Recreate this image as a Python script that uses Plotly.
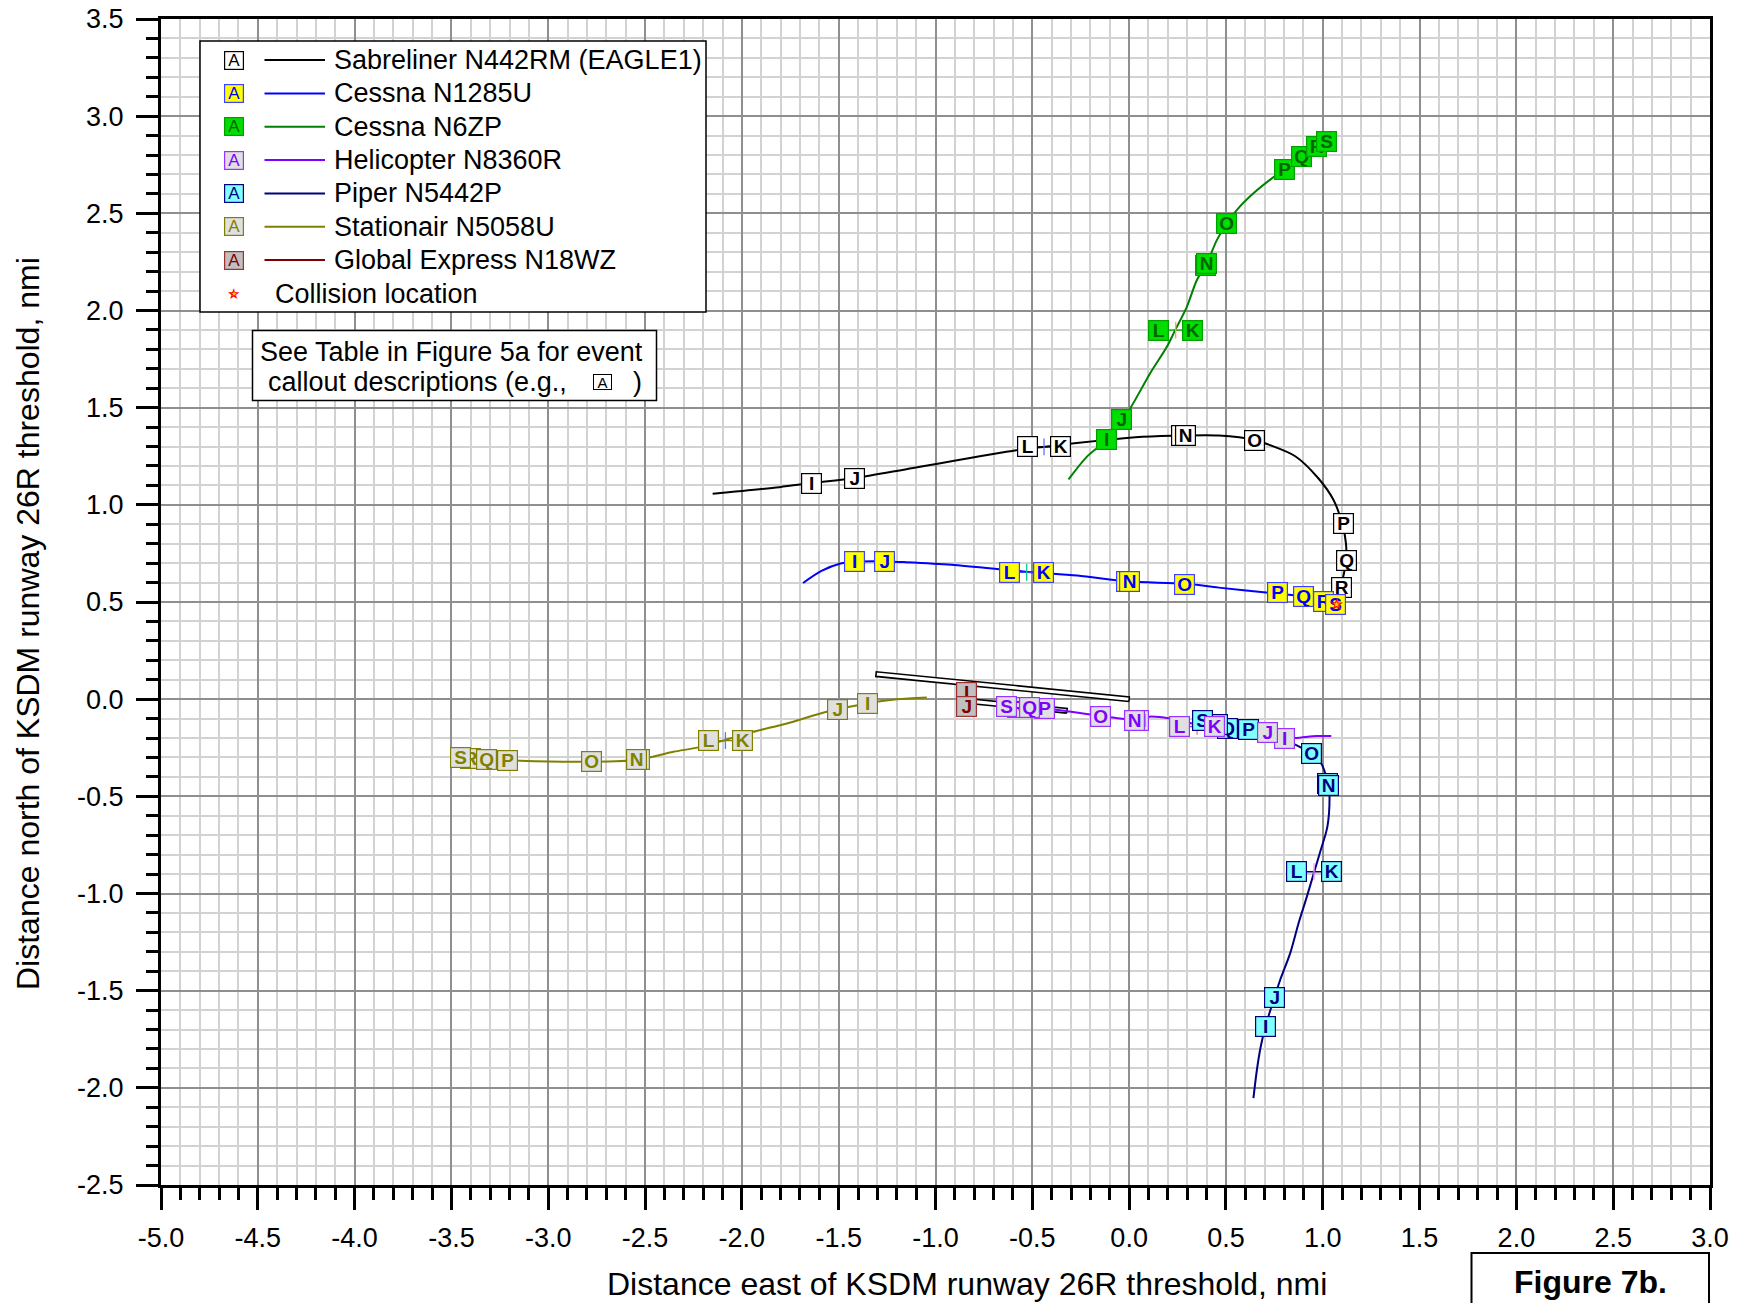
import numpy as np
import plotly.graph_objects as go

FONT = "Liberation Sans, Arial, sans-serif"

# ---------------------------------------------------------------------------
# Track data: distance east / north of the KSDM runway 26R threshold (nmi)
# ---------------------------------------------------------------------------
sab_x = [-2.151, -1.806, -1.638, -1.417, -1.115, -0.583, -0.444, -0.129, 0.069,
         0.286, 0.463, 0.647, 0.720, 0.858, 0.976, 1.055, 1.101, 1.120, 1.120,
         1.108, 1.091, 1.073]
sab_y = [1.057, 1.091, 1.112, 1.138, 1.190, 1.281, 1.298, 1.333, 1.350,
         1.357, 1.357, 1.335, 1.310, 1.250, 1.138, 1.026, 0.902, 0.800, 0.712,
         0.640, 0.569, 0.485]

c85u_x = [-1.684, -1.589, -1.490, -1.417, -1.261, -1.155, -0.918, -0.523, -0.267,
          0.000, 0.282, 0.463, 0.720, 0.897, 0.996, 1.073]
c85u_y = [0.598, 0.660, 0.698, 0.707, 0.709, 0.705, 0.692, 0.655, 0.636,
          0.605, 0.595, 0.574, 0.548, 0.529, 0.509, 0.485]

c6zp_x = [-0.313, -0.219, -0.115, -0.038, 0.005, 0.108, 0.195, 0.238, 0.298, 0.350,
          0.401, 0.453, 0.505, 0.556, 0.642, 0.737, 0.801, 0.892, 0.970, 1.018]
c6zp_y = [1.131, 1.247, 1.336, 1.441, 1.496, 1.676, 1.813, 1.899, 2.019, 2.157,
          2.242, 2.362, 2.448, 2.517, 2.603, 2.680, 2.726, 2.791, 2.843, 2.868]

heli_x = [1.044, 0.967, 0.863, 0.803, 0.713, 0.600, 0.441, 0.350, 0.209, 0.106,
          0.028, -0.067, -0.149, -0.325, -0.437, -0.514, -0.635]
heli_y = [-0.190, -0.190, -0.200, -0.200, -0.173, -0.155, -0.139, -0.130, -0.099, -0.090,
          -0.105, -0.097, -0.087, -0.061, -0.048, -0.043, -0.039]

piper_x = [0.642, 0.660, 0.680, 0.704, 0.751, 0.780, 0.832, 0.875, 0.918, 0.956,
           0.987, 1.024, 1.035, 1.030, 0.992, 0.941, 0.850, 0.720, 0.614, 0.510, 0.381]
piper_y = [-2.053, -1.907, -1.786, -1.684, -1.533, -1.445, -1.307, -1.153, -1.016, -0.888,
           -0.785, -0.656, -0.502, -0.442, -0.331, -0.282, -0.230, -0.180, -0.154, -0.150, -0.108]

stat_x = [-1.045, -1.200, -1.355, -1.562, -1.768, -1.941, -2.085, -2.225, -2.354,
          -2.543, -2.781, -3.146, -3.450]
stat_y = [0.009, -0.001, -0.022, -0.065, -0.125, -0.168, -0.210, -0.248, -0.271,
          -0.313, -0.322, -0.317, -0.300]

glex_x = [-0.879, -0.850]
glex_y = [-0.087, -0.050]

# Event callouts (letter, east, north)
sab_lbl = ["I", "J", "L", "K", "M", "N", "O", "P", "Q", "R"]
sab_lx = [-1.638, -1.417, -0.527, -0.352, 0.272, 0.289, 0.650, 1.105, 1.122, 1.095]
sab_ly = [1.112, 1.138, 1.298, 1.298, 1.357, 1.356, 1.329, 0.903, 0.714, 0.573]

c85u_lbl = ["I", "J", "L", "K", "M", "N", "O", "P", "Q", "R", "S"]
c85u_lx = [-1.417, -1.261, -0.618, -0.440, -0.015, 0.000, 0.285, 0.767, 0.902, 1.005, 1.066]
c85u_ly = [0.707, 0.708, 0.652, 0.654, 0.605, 0.603, 0.592, 0.547, 0.530, 0.505, 0.487]

c6zp_lbl = ["I", "J", "L", "K", "M", "N", "O", "P", "Q", "R", "S"]
c6zp_lx = [-0.115, -0.038, 0.152, 0.329, 0.392, 0.401, 0.505, 0.801, 0.892, 0.970, 1.018]
c6zp_ly = [1.336, 1.441, 1.899, 1.899, 2.234, 2.242, 2.448, 2.726, 2.791, 2.843, 2.868]

piper_lbl = ["I", "J", "L", "K", "M", "N", "O", "P", "Q", "R", "S"]
piper_lx = [0.704, 0.751, 0.866, 1.044, 1.022, 1.030, 0.941, 0.614, 0.510, 0.455, 0.381]
piper_ly = [-1.684, -1.533, -0.888, -0.888, -0.434, -0.442, -0.282, -0.154, -0.150, -0.128, -0.108]

heli_lbl = ["R", "I", "J", "K", "L", "M", "N", "O", "P", "Q", "S"]
heli_lx = [-0.575, 0.803, 0.713, 0.441, 0.261, 0.050, 0.028, -0.149, -0.437, -0.514, -0.635]
heli_ly = [-0.043, -0.202, -0.173, -0.139, -0.142, -0.108, -0.108, -0.087, -0.048, -0.043, -0.039]

stat_lbl = ["I", "J", "K", "L", "M", "N", "O", "P", "R", "Q", "S"]
stat_lx = [-1.353, -1.508, -1.996, -2.174, -2.530, -2.542, -2.777, -3.208, -3.403, -3.317, -3.455]
stat_ly = [-0.024, -0.053, -0.213, -0.213, -0.313, -0.311, -0.322, -0.316, -0.305, -0.311, -0.299]

glex_lbl = ["I", "J"]
glex_lx = [-0.838, -0.842]
glex_ly = [0.033, -0.039]

collision_x = [1.073]
collision_y = [0.485]

# Runway centre lines (east end, west end) and width, nmi
rwy_26r = [(0.000, 0.000), (-1.307, 0.129)]
rwy_26l = [(-0.321, -0.060), (-0.876, -0.005)]
rwy_width = 0.024

# Axis ticks
x_ticks = [-5.0, -4.5, -4.0, -3.5, -3.0, -2.5, -2.0, -1.5, -1.0, -0.5, 0.0,
           0.5, 1.0, 1.5, 2.0, 2.5, 3.0]
y_ticks = [-2.5, -2.0, -1.5, -1.0, -0.5, 0.0, 0.5, 1.0, 1.5, 2.0, 2.5, 3.0, 3.5]

# ---------------------------------------------------------------------------
# Styling per aircraft
# ---------------------------------------------------------------------------
series = [
    dict(name="Sabreliner N442RM (EAGLE1)", x=sab_x, y=sab_y, lbl=sab_lbl, lx=sab_lx, ly=sab_ly,
         line="#000000", fill="#ffffff", border="#000000", text="#000000"),
    dict(name="Cessna N1285U", x=c85u_x, y=c85u_y, lbl=c85u_lbl, lx=c85u_lx, ly=c85u_ly,
         line="#0000ff", fill="#ffff00", border="#4040ff", text="#0000ff"),
    dict(name="Cessna N6ZP", x=c6zp_x, y=c6zp_y, lbl=c6zp_lbl, lx=c6zp_lx, ly=c6zp_ly,
         line="#008000", fill="#00dd00", border="#00a000", text="#006400"),
    dict(name="Helicopter N8360R", x=heli_x, y=heli_y, lbl=heli_lbl, lx=heli_lx, ly=heli_ly,
         line="#8000ff", fill="#e0e0e0", border="#9933ff", text="#8000ff"),
    dict(name="Piper N5442P", x=piper_x, y=piper_y, lbl=piper_lbl, lx=piper_lx, ly=piper_ly,
         line="#000080", fill="#80ffff", border="#000080", text="#000080"),
    dict(name="Stationair N5058U", x=stat_x, y=stat_y, lbl=stat_lbl, lx=stat_lx, ly=stat_ly,
         line="#808000", fill="#e0e0e0", border="#808000", text="#808000"),
    dict(name="Global Express N18WZ", x=glex_x, y=glex_y, lbl=glex_lbl, lx=glex_lx, ly=glex_ly,
         line="#800000", fill="#c0c0c0", border="#a03030", text="#800000"),
]
# order in which the callout boxes are stacked (last on top)
draw_order = [6, 5, 4, 3, 0, 2, 1]

# Plot-area geometry in pixels (used for placing the decorations)
W, H = 1743, 1303
PL, PT, PW, PH = 161, 19, 1549, 1166


def px(x):
    return (x - PL) / PW


def py(y):
    return 1 - (y - PT) / PH


def paper_note(x, y, text, size, anchor="center", **kw):
    """Text placed by pixel position inside the figure."""
    return dict(x=px(x), y=py(y), xref="paper", yref="paper", showarrow=False,
                xanchor=anchor, yanchor="middle", text=text,
                font=dict(family=FONT, size=size, color=kw.pop("color", "black")), **kw)


fig = go.Figure()

# Runways as thin white rectangles
for (e, w_) in (rwy_26r, rwy_26l):
    p0 = np.array(e)
    p1 = np.array(w_)
    d = p1 - p0
    n = np.array([-d[1], d[0]]) / np.hypot(*d) * rwy_width / 2
    poly = np.array([p0 + n, p1 + n, p1 - n, p0 - n, p0 + n])
    fig.add_trace(go.Scatter(x=poly[:, 0], y=poly[:, 1], mode="lines", fill="toself",
                             fillcolor="white", line=dict(color="black", width=1.6),
                             hoverinfo="skip", showlegend=False))

# Tracks
for s in series:
    fig.add_trace(go.Scatter(x=s["x"], y=s["y"], mode="lines",
                             line=dict(color=s["line"], width=2, shape="spline", smoothing=0.8),
                             name=s["name"], showlegend=False, hoverinfo="skip"))

# L/K time marks: connector between the two boxes and a tick on the track
for s in series:
    if "L" in s["lbl"] and "K" in s["lbl"]:
        iL, iK = s["lbl"].index("L"), s["lbl"].index("K")
        xl, yl = s["lx"][iL], s["ly"][iL]
        xk, yk = s["lx"][iK], s["ly"][iK]
        fig.add_trace(go.Scatter(x=[xl, xk], y=[yl, yk], mode="lines",
                                 line=dict(color=s["border"], width=1.3),
                                 hoverinfo="skip", showlegend=False))
        fig.add_trace(go.Scatter(x=[(xl + xk) / 2], y=[(yl + yk) / 2], mode="markers",
                                 marker=dict(symbol="line-ns-open", size=12,
                                             line=dict(color=s["border"], width=1.3)),
                                 hoverinfo="skip", showlegend=False))

annotations = []

# Callout boxes
for i in draw_order:
    s = series[i]
    for t, x, y in zip(s["lbl"], s["lx"], s["ly"]):
        annotations.append(dict(
            x=x, y=y, xref="x", yref="y", showarrow=False, xanchor="center", yanchor="middle",
            text=f"<b>{t}</b>", font=dict(family=FONT, size=19, color=s["text"]),
            bgcolor=s["fill"], bordercolor=s["border"], borderwidth=1.2, borderpad=0,
            width=19, height=19, align="center", valign="middle"))

# Collision marker (drawn above the callouts)
for cx, cy in zip(collision_x, collision_y):
    annotations.append(dict(x=cx, y=cy, xref="x", yref="y", showarrow=False,
                            xanchor="center", yanchor="middle",
                            text="★", font=dict(size=17, color="#ff0000")))
    annotations.append(dict(x=cx, y=cy, xref="x", yref="y", showarrow=False,
                            xanchor="center", yanchor="middle",
                            text="★", font=dict(size=8, color="#ffd000")))

shapes = []

# Legend box
shapes.append(dict(type="rect", xref="paper", yref="paper",
                   x0=px(200), x1=px(706), y0=py(312), y1=py(41),
                   fillcolor="white", line=dict(color="black", width=1.5), layer="above"))
row_y = [60.0, 93.4, 126.7, 160.1, 193.4, 226.8, 260.1]
for s, ry in zip(series, row_y):
    annotations.append(paper_note(233.5, ry, "A", 17, color=s["text"],
                                  bgcolor=s["fill"], bordercolor=s["border"], borderwidth=1.2,
                                  borderpad=0, width=18, height=17))
    shapes.append(dict(type="line", xref="paper", yref="paper", x0=px(264.5), x1=px(325),
                       y0=py(ry), y1=py(ry), line=dict(color=s["line"], width=2), layer="above"))
    annotations.append(paper_note(332, ry, s["name"], 27, anchor="left"))
annotations.append(paper_note(233.5, 293.5, "★", 15, color="#ff0000"))
annotations.append(paper_note(233.5, 293.5, "★", 7, color="#ffd000"))
annotations.append(paper_note(272.5, 293.5, "Collision location", 27, anchor="left"))

# Callout note
shapes.append(dict(type="rect", xref="paper", yref="paper",
                   x0=px(252.5), x1=px(656.5), y0=py(400.5), y1=py(330.5),
                   fillcolor="white", line=dict(color="black", width=1.5), layer="above"))
annotations.append(paper_note(451, 351.5, "See Table in Figure 5a for event", 27))
annotations.append(paper_note(265.5, 382, "callout descriptions (e.g.,", 27, anchor="left"))
annotations.append(paper_note(602, 382.5, "A", 15, bgcolor="white", bordercolor="black",
                              borderwidth=1, borderpad=0, width=17, height=14))
annotations.append(paper_note(637, 382, ")", 27))

# Axis titles
annotations.append(paper_note(967, 1284, "Distance east of KSDM runway 26R threshold, nmi", 32))
annotations.append(paper_note(28, 624, "Distance north of KSDM runway 26R threshold, nmi", 32,
                              textangle=-90))

# Figure caption box
shapes.append(dict(type="rect", xref="paper", yref="paper",
                   x0=px(1471.5), x1=px(1709), y0=py(1320), y1=py(1253),
                   fillcolor="white", line=dict(color="black", width=2), layer="above"))
annotations.append(paper_note(1590, 1282, "<b>Figure 7b.</b>", 32))

axis_common = dict(
    showline=True, linewidth=3, linecolor="black", mirror=True,
    ticks="outside", ticklen=22, tickwidth=3, tickcolor="black",
    tickfont=dict(family=FONT, size=27, color="black"),
    showgrid=True, gridcolor="#8f8f8f", gridwidth=1.5,
    zeroline=False, tickmode="array", automargin=False,
    minor=dict(dtick=0.1, ticks="outside", ticklen=12, tickwidth=3, tickcolor="black",
               showgrid=True, gridcolor="#d2d2d2", gridwidth=1.5),
)

fig.update_layout(
    width=W, height=H,
    margin=dict(l=PL, r=W - PL - PW, t=PT, b=H - PT - PH, autoexpand=False),
    paper_bgcolor="white", plot_bgcolor="white",
    showlegend=False,
    xaxis=dict(range=[-5, 3], tickvals=x_ticks, ticktext=[f"{v:.1f}" for v in x_ticks],
               ticklabelstandoff=5, **axis_common),
    yaxis=dict(range=[-2.5, 3.5], tickvals=y_ticks, ticktext=[f"{v:.1f}" for v in y_ticks],
               ticklabelstandoff=7, **axis_common),
    annotations=annotations,
    shapes=shapes,
    font=dict(family=FONT),
)

fig.write_html("out.html")
